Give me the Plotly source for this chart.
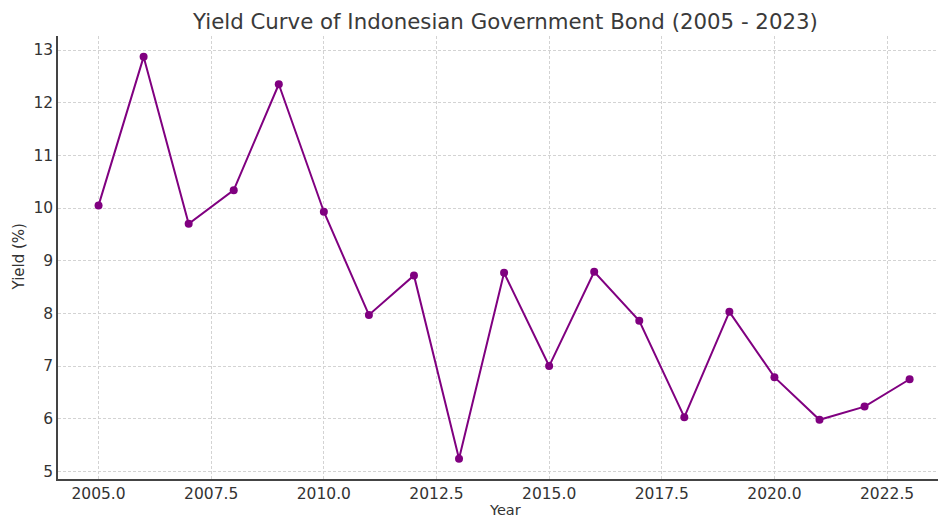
import plotly.graph_objects as go

years = [2005, 2006, 2007, 2008, 2009, 2010, 2011, 2012, 2013, 2014,
         2015, 2016, 2017, 2018, 2019, 2020, 2021, 2022, 2023]
yields = [10.05, 12.87, 9.70, 10.34, 12.35, 9.93, 7.97, 8.72, 5.24, 8.77,
          7.00, 8.79, 7.86, 6.03, 8.03, 6.79, 5.98, 6.23, 6.75]
x_ticks = [2005.0, 2007.5, 2010.0, 2012.5, 2015.0, 2017.5, 2020.0, 2022.5]
x_tick_labels = ["2005.0", "2007.5", "2010.0", "2012.5", "2015.0", "2017.5", "2020.0", "2022.5"]
y_ticks = [5, 6, 7, 8, 9, 10, 11, 12, 13]

FONT = "DejaVu Sans"
TXT = "#333333"

fig = go.Figure(go.Scatter(
    x=years, y=yields, mode="lines+markers",
    line=dict(color="#800080", width=2),
    marker=dict(color="#800080", size=8),
    showlegend=False,
))

L, R, T, B = 58, 1, 36, 40
W, H = 939, 519
pw = W - L - R
ph = H - T - B
fig.update_layout(
    width=W, height=H,
    margin=dict(l=L, r=R, t=T, b=B),
    paper_bgcolor="white", plot_bgcolor="white",
    font=dict(family=FONT, color=TXT, size=15),
    xaxis=dict(range=[2004.1, 2023.63], tickvals=x_ticks, ticktext=x_tick_labels,
               showgrid=True, gridcolor="#d3d3d3", griddash="3px,2px", gridwidth=1,
               showline=True, linecolor="#444444", linewidth=1.5, zeroline=False,
               ticks="", tickfont=dict(size=15.5, color=TXT)),
    yaxis=dict(range=[4.856, 13.266], tickvals=y_ticks,
               showgrid=True, gridcolor="#d3d3d3", griddash="3px,2px", gridwidth=1,
               showline=True, linecolor="#444444", linewidth=1.5, zeroline=False,
               ticks="", tickfont=dict(size=15.5, color=TXT)),
)

cx = (504.5 - L) / pw
fig.add_annotation(text="Yield Curve of Indonesian Government Bond (2005 - 2023)",
                   xref="paper", yref="paper", x=cx, y=1 + (T - 21) / ph,
                   showarrow=False, font=dict(size=21.3, color="#3a3a3a", family=FONT),
                   xanchor="center", yanchor="middle")
fig.add_annotation(text="Year", xref="paper", yref="paper", x=cx,
                   y=-(510 - (H - B)) / ph, showarrow=False,
                   font=dict(size=14.5, color=TXT, family=FONT), xanchor="center", yanchor="middle")
fig.add_annotation(text="Yield (%)", xref="paper", yref="paper", x=-(L - 18) / pw,
                   y=0.5, showarrow=False, textangle=-90,
                   font=dict(size=15, color=TXT, family=FONT), xanchor="center", yanchor="middle")

fig.write_html("out.html", config={"displayModeBar": False},
               post_script="document.body.style.margin='0';document.body.style.overflow='hidden';")
